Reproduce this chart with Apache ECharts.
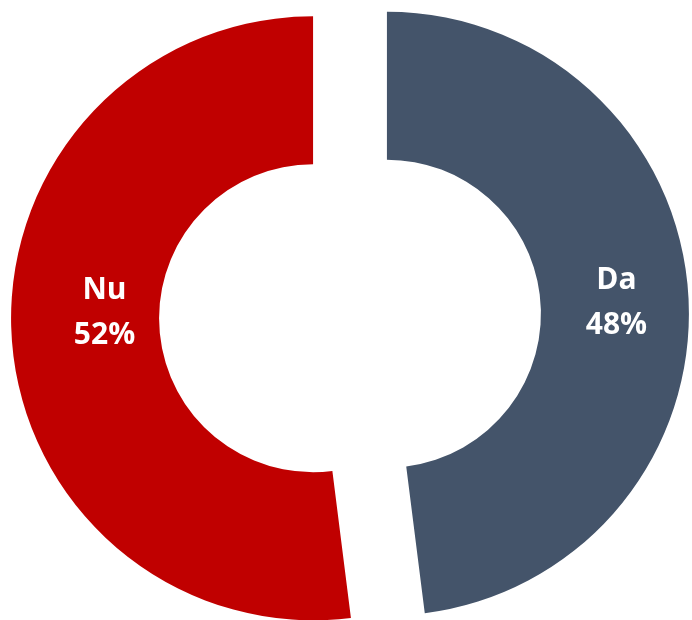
<!DOCTYPE html>
<html>
<head>
<meta charset="utf-8">
<script src="https://cdn.jsdelivr.net/npm/echarts@6/dist/echarts.min.js"></script>
<style>
  html, body { margin: 0; padding: 0; background: #fff; }
  #chart { width: 692px; height: 620px; }
</style>
</head>
<body>
<div id="chart"></div>
<script>
const categories = ['Da', 'Nu'];
const values = [48, 52];
const colors = ['#44546A', '#C00000'];

const chart = echarts.init(document.getElementById('chart'));

chart.setOption({
  animation: false,
  series: [
    {
      type: 'pie',
      center: [350, 316],
      radius: [154, 302],
      startAngle: 90,
      clockwise: true,
      selectedMode: 'multiple',
      selectedOffset: 37,
      emphasis: { disabled: true },
      label: {
        position: 'inside',
        color: '#fff',
        fontFamily: 'Open Sans',
        fontWeight: 'bold',
        fontSize: 30,
        lineHeight: 45,
        formatter: p => `${p.name}\n${p.value}%`
      },
      labelLayout: p => (p.dataIndex === 1 ? { dx: 22, dy: -20 } : { dx: -1, dy: 4 }),
      data: categories.map((name, i) => ({
        name,
        value: values[i],
        selected: true,
        itemStyle: { color: colors[i] }
      }))
    }
  ]
});
</script>
</body>
</html>
